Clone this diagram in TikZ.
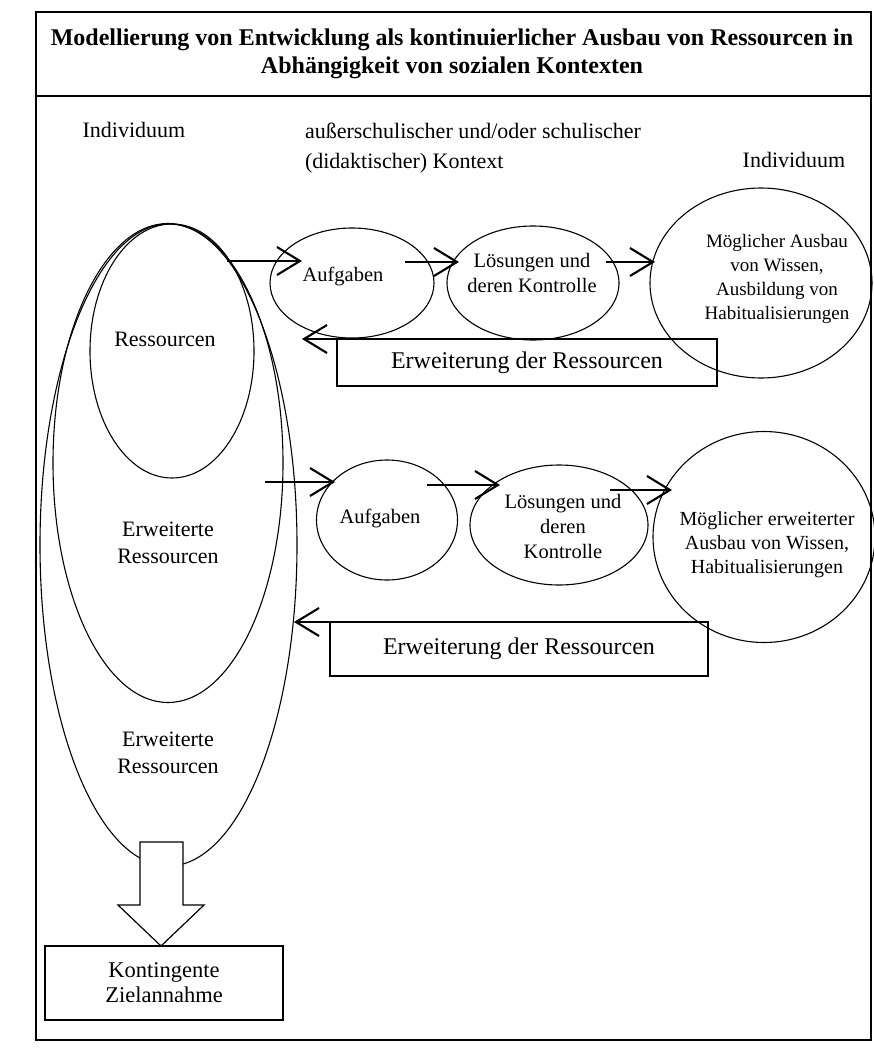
\documentclass[tikz,border=0pt]{standalone}
\usepackage{fontspec}
\setmainfont{Liberation Serif}
\usetikzlibrary{arrows.meta,shapes.geometric}
\begin{document}
\begin{tikzpicture}[x=1pt,y=-1pt,
  every node/.style={inner sep=0pt, outer sep=0pt},
  ell/.style={draw, ellipse, line width=1.1pt, inner sep=0pt},
  arr/.style={line width=2.4pt, -{Straight Barb[length=23pt,width=28pt,line width=2.1pt]}},
  txt/.style={align=center, font=\fontsize{20.5}{25}\selectfont},
  bigtxt/.style={align=center, font=\fontsize{19}{24}\selectfont},
  lefttxt/.style={align=center, font=\fontsize{22}{27}\selectfont},
  hdr/.style={font=\fontsize{22}{30}\selectfont},
  erwbox/.style={draw, line width=1.4pt, font=\fontsize{24}{28}\selectfont},
]
\useasboundingbox (0,0) rectangle (873,1052);

% frame and title band
\draw[line width=1.5pt] (36,12) rectangle (871,1040);
\draw[line width=2pt] (36,96) -- (871,96);
\node[align=center, font=\bfseries\fontsize{24}{28}\selectfont] (title) at (452,54)
  {Modellierung von Entwicklung als kontinuierlicher Ausbau von Ressourcen in\\Abhängigkeit von sozialen Kontexten};

% headers
\node[hdr] (ind1) at (134,130) {Individuum};
\node[hdr, align=left, anchor=west] (ctx) at (305,148) {außerschulischer und/oder schulischer\\(didaktischer) Kontext};
\node[hdr] (ind2) at (794,160) {Individuum};

% left nested ellipses
\node[ell, minimum width=257pt, minimum height=642pt] (erw2) at (168.5,545) {};
\node[ell, minimum width=230pt, minimum height=479pt] (erw1) at (168,463) {};
\node[ell, minimum width=164pt, minimum height=254pt] (res) at (172,351) {};
\node[lefttxt] (tres) at (165,339) {Ressourcen};
\node[lefttxt] (terw1) at (168,543) {Erweiterte\\Ressourcen};
\node[lefttxt] (terw2) at (168,753) {Erweiterte\\Ressourcen};

% row 1
\node[ell, minimum width=164pt, minimum height=110pt] (auf1) at (352,283) {};
\node[txt] (tauf1) at (343,276) {Aufgaben};
\node[ell, minimum width=172pt, minimum height=114pt] (los1) at (533,283) {};
\node[txt] (tlos1) at (532,273) {Lösungen und\\deren Kontrolle};
\node[ell, minimum width=222pt, minimum height=190pt] (big1) at (761,283) {};
\node[bigtxt] (tbig1) at (777,279) {Möglicher Ausbau\\von Wissen,\\Ausbildung von\\Habitualisierungen};
\node[erwbox, minimum width=380pt, minimum height=47pt] (erwb1) at (527,362.5) {Erweiterung der Ressourcen};

\coordinate (a1s) at (227,261); \coordinate (a1e) at (302,261);
\coordinate (a2s) at (405,262); \coordinate (a2e) at (459,262);
\coordinate (a3s) at (606,262); \coordinate (a3e) at (655,262);
\draw[arr] (a1s) -- (a1e);
\draw[arr] (a2s) -- (a2e);
\draw[arr] (a3s) -- (a3e);
\draw[arr] (erwb1.north east) -- ++(-415,0);

% row 2
\node[ell, minimum width=141pt, minimum height=120pt] (auf2) at (387,520) {};
\node[txt] (tauf2) at (380,518) {Aufgaben};
\node[ell, minimum width=178pt, minimum height=120pt] (los2) at (559,525) {};
\node[txt] (tlos2) at (563,526) {Lösungen und\\deren\\Kontrolle};
\node[ell, minimum width=222pt, minimum height=211pt] (big2) at (764,537) {};
\node[align=center, font=\fontsize{20}{24}\selectfont] (tbig2) at (767,545) {Möglicher erweiterter\\Ausbau von Wissen,\\Habitualisierungen};
\node[erwbox, minimum width=378pt, minimum height=54pt] (erwb2) at (519,649) {Erweiterung der Ressourcen};

\coordinate (a4s) at (265,482); \coordinate (a4e) at (335,482);
\coordinate (a5s) at (427,485); \coordinate (a5e) at (500,485);
\coordinate (a6s) at (610,490); \coordinate (a6e) at (672,490);
\draw[arr] (a4s) -- (a4e);
\draw[arr] (a5s) -- (a5e);
\draw[arr] (a6s) -- (a6e);
\draw[arr] (erwb2.north east) -- ++(-414,0);

% goal box and block arrow
\node[draw, line width=1.5pt, minimum width=238pt, minimum height=74pt, lefttxt, font=\fontsize{22.5}{25}\selectfont] (kont) at (164,983) {Kontingente\\Zielannahme};
\draw[line width=1.2pt, fill=white] (140,842) -- (140,905) -- (118,905) -- (kont.north -| 161,0) -- (204,905) -- (183,905) -- (183,842) -- cycle;
\end{tikzpicture}
\end{document}
